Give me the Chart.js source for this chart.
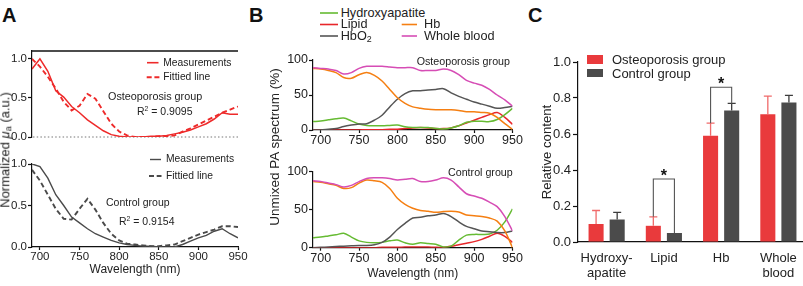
<!DOCTYPE html>
<html><head><meta charset="utf-8">
<script src="https://cdn.jsdelivr.net/npm/chart.js@4.4.0/dist/chart.umd.min.js"></script>
<style>
html,body{margin:0;padding:0;background:#fff;width:803px;height:286px;overflow:hidden;}
#fig{position:relative;width:803px;height:286px;overflow:hidden;background:#fff;
 font-family:"Liberation Sans",Arial,Helvetica,sans-serif;color:#222;}
canvas{position:absolute;}
.t{position:absolute;white-space:nowrap;line-height:1;}
.lbl{position:absolute;font-family:"Liberation Sans",Arial,sans-serif;font-weight:bold;font-size:20px;line-height:1;color:#111;}
.rot{position:absolute;white-space:nowrap;line-height:1;transform:translate(-50%,-50%) rotate(-90deg);}
svg{position:absolute;overflow:visible;}
</style></head><body><div id="fig">
<canvas id="cAtop" width="250" height="110" style="left:0;top:40px"></canvas>
<canvas id="cAbot" width="250" height="136" style="left:0;top:150px"></canvas>
<canvas id="cBtop" width="255" height="110" style="left:270px;top:40px"></canvas>
<canvas id="cBbot" width="255" height="136" style="left:270px;top:150px"></canvas>
<canvas id="cC" width="275" height="246" style="left:535px;top:40px"></canvas>
</div>
<script>
// ---------------- DATA ----------------
const WL = [690,700,710,720,730,740,750,760,770,780,790,800,810,820,830,840,850,860,870,880,890,900,910,920,930,940,950];
const X_TICKS = [700,750,800,850,900,950];
// Panel A (normalized absorption)
const A_osteoMeas = [0.87,1.0,0.84,0.59,0.51,0.39,0.31,0.22,0.15,0.08,0.03,0.01,0.0,0.0,0.0,0.01,0.01,0.02,0.04,0.06,0.09,0.13,0.17,0.23,0.31,0.29,0.29];
const A_osteoFit  = [1.0,0.90,0.77,0.62,0.45,0.34,0.40,0.55,0.49,0.33,0.17,0.07,0.02,0.0,0.0,0.0,0.01,0.01,0.02,0.07,0.11,0.16,0.21,0.26,0.31,0.35,0.39];
const A_ctrlMeas  = [1.0,0.97,0.83,0.63,0.50,0.36,0.29,0.22,0.16,0.12,0.08,0.05,0.03,0.02,0.01,0.01,0.0,0.0,0.0,0.03,0.07,0.11,0.14,0.19,0.22,0.16,0.11];
const A_ctrlFit   = [0.93,0.80,0.63,0.46,0.34,0.33,0.46,0.58,0.45,0.29,0.16,0.08,0.04,0.03,0.02,0.01,0.01,0.02,0.03,0.07,0.11,0.15,0.18,0.21,0.25,0.25,0.24];
const A_Y_TICKS = [0,0.5,1.0];
// Panel B (unmixed PA spectrum, %)
const B_osteoHyd  = [12,13,14.5,16,17,13,8.5,6.5,6,6,6.5,7,4.5,3.5,3.5,3.5,2,1.5,3,6,11,12.5,12.5,12,15,22,31];
const B_osteoLip  = [0,0,0,0,0,0,0,0.5,0.5,0.5,1,1,2,3,3.5,3,2,2,3,6,10,14,18,22,25,18,8];
const B_osteoHbO2 = [0,0,1,2,5,7,8.5,9,14,21,33,44,52,56,56,57,58,59,53,48,44,40,37,34,31,32,34];
const B_osteoHb   = [88,87,85,82,75,74,79,82,78,70,58,46,38,33,31,29.5,29,29,29,28,26,26,25,24,18,9,1];
const B_osteoWB   = [89,88,87,85,80,82,88,91,91,91,90,89,89,89,85,85,85,87,85,79,71,67,64,58,50,43,34];
const B_ctrlHyd   = [13,14,15.5,17,19,14,9,7,6.5,7,9,10,6.5,4.5,6.5,5.5,4.5,1,2,10,16.5,17.5,17.5,18,23,34,51];
const B_ctrlLip   = [0,0,0,0,0,0,0,0,0,0.5,0.5,0.5,1,1,1,1,0.5,0.5,2,4,6,8,11,15,19,15,7];
const B_ctrlHbO2  = [0,0.5,1,1.5,2,2.5,3,3,4,7,14,24,32,39,40,42,43,45,41,34,28,25,22,21,20,20,22];
const B_ctrlHb    = [87,86,84,82,78,79,85,89,88,86,78,65,57,52,49,48,46.5,47.5,48,47,43,42,41,39,35,22,0];
const B_ctrlWB    = [88,87,85,83,80,82,87,91,92,92,91,89,90,91,87,87,89,92,89,80,71,68,65,60,54,41,22];
const B_Y_TICKS = [0,50,100];
// Panel C (relative content)
const C_CATS = [['Hydroxy-','apatite'],'Lipid','Hb',['Whole','blood']];
const C_osteo    = [0.10,0.09,0.59,0.71];
const C_osteoErr = [0.075,0.05,0.07,0.10];
const C_ctrl     = [0.125,0.05,0.73,0.775];
const C_ctrlErr  = [0.04,0,0.04,0.04];
const C_SIG_CAT  = [1,2];
const C_SIG_LEVEL= [0.35,0.86];
const C_Y_TICKS = [0,0.2,0.4,0.6,0.8,1.0];

// ---------------- STYLE ----------------
const FONT = '"Liberation Sans",Arial,Helvetica,sans-serif';
const RED_A='#ee2a2a', GRAY_A='#4a4a4a';
const GREEN='#66bb33', RED='#e8262a', GRAYB='#555555', ORANGE='#f57f12', MAGENTA='#d64db5';
const RED_C='#e93a3c', GRAY_C='#4b4b4b';
Chart.defaults.font.family = FONT;
Chart.defaults.color = '#222';
Chart.defaults.animation = false;
Chart.defaults.plugins.legend.display = false;
Chart.defaults.plugins.tooltip.enabled = false;

const xy = (xs, ys) => xs.map((x,i)=>({x:x, y:ys[i]}));
const fixedTicks = vals => (s => { s.ticks = vals.map(v=>({value:v})); });
const axisGrid = (len) => ({display:true, drawOnChartArea:false, drawTicks:true, tickLength:len, tickColor:'#111', tickWidth:1.2});
const axisBorder = {display:true, color:'#111', width:1.2};

const zeroDotted = {id:'zeroDotted', beforeDatasetsDraw(chart){
  const {ctx, chartArea:a} = chart; const y = chart.scales.y.getPixelForValue(0);
  ctx.save(); ctx.strokeStyle='#777'; ctx.lineWidth=1.2; ctx.setLineDash([1.5,2.2]);
  ctx.beginPath(); ctx.moveTo(a.left+1, y); ctx.lineTo(a.right, y); ctx.stroke(); ctx.restore();
}};
const topFrame = {id:'topFrame', afterDraw(chart){
  const {ctx, chartArea:a} = chart;
  ctx.save(); ctx.strokeStyle='#111'; ctx.lineWidth=1.3;
  ctx.beginPath(); ctx.moveTo(a.left-0.6, a.top); ctx.lineTo(a.right, a.top); ctx.stroke(); ctx.restore();
}};

function lineDs(data, color, width, dash){
  return {data:data, borderColor:color, borderWidth:width, borderDash:dash||[], pointRadius:0, fill:false, tension:0};
}

function aChart(id, ds, opts){
  return new Chart(document.getElementById(id), {
    type:'line',
    data:{datasets:ds},
    options:{responsive:false, devicePixelRatio:1, layout:{padding:opts.padding},
      scales:{
        x:opts.x,
        y:{type:'linear', min:0, max:opts.ymax, afterBuildTicks:fixedTicks(opts.yticks), afterFit(s){s.width=opts.yw;},
           grid:axisGrid(opts.tl), border:axisBorder,
           ticks:{padding:1, font:{size:opts.fs}, color:'#222', callback:opts.fmt}}
      }},
    plugins:opts.plugins||[]
  });
}
function xAxis(height, fs, title, tfs, pb){
  return {type:'linear', min:690, max:950, afterBuildTicks:fixedTicks(X_TICKS), afterFit(s){s.height=height;},
    grid:axisGrid(3), border:axisBorder,
    ticks:{padding:0, font:{size:fs}, color:'#222', maxRotation:0, autoSkip:false},
    title:{display:!!title, text:title||'', color:'#222', font:{size:tfs||fs}, padding:{top:0,bottom:pb||0}}};
}
const f1 = v => v.toFixed(1);
const f0 = v => String(v);

// A top
aChart('cAtop', [lineDs(xy(WL,A_osteoMeas),RED_A,1.5), lineDs(xy(WL,A_osteoFit),RED_A,1.9,[5,3])],
  {padding:{top:11,right:12,bottom:13,left:0}, x:{type:'linear',display:false,min:690,max:950},
   ymax:1.1, yticks:A_Y_TICKS, yw:32, tl:4, fs:11.5, fmt:f1, plugins:[zeroDotted, topFrame]});
// A bottom
aChart('cAbot', [lineDs(xy(WL,A_ctrlMeas),GRAY_A,1.4), lineDs(xy(WL,A_ctrlFit),GRAY_A,1.9,[5,3])],
  {padding:{top:14,right:12,bottom:0,left:0}, x:xAxis(39,11.5,'Wavelength (nm)',12,8.8),
   ymax:1.0, yticks:A_Y_TICKS, yw:32, tl:4, fs:11.5, fmt:f1});

function bSets(h,l,o,hb,wb){
  const mk=(d,c)=>Object.assign(lineDs(xy(WL,d),c,1.5),{tension:0.3});
  return [mk(wb,MAGENTA), mk(hb,ORANGE), mk(o,GRAYB), mk(h,GREEN), mk(l,RED)];
}
// B top
aChart('cBtop', bSets(B_osteoHyd,B_osteoLip,B_osteoHbO2,B_osteoHb,B_osteoWB),
  {padding:{top:20,right:12.5,bottom:0,left:0}, x:xAxis(20,12.5,null,12,0),
   ymax:100, yticks:B_Y_TICKS, yw:43, tl:4, fs:12.5, fmt:f0});
// B bottom
aChart('cBbot', bSets(B_ctrlHyd,B_ctrlLip,B_ctrlHbO2,B_ctrlHb,B_ctrlWB),
  {padding:{top:21.7,right:12.5,bottom:0,left:0}, x:xAxis(38.3,12.5,'Wavelength (nm)',12,4.8),
   ymax:100, yticks:B_Y_TICKS, yw:43, tl:4, fs:12.5, fmt:f0});

// C
const cExtras = {id:'cExtras', afterDatasetsDraw(chart){
  const ctx=chart.ctx, ys=chart.scales.y;
  const sets=[[0,C_osteo,C_osteoErr,'#f06a6a'],[1,C_ctrl,C_ctrlErr,'#3d3d3d']];
  sets.forEach(([di,vals,errs,col])=>{
    chart.getDatasetMeta(di).data.forEach((bar,i)=>{
      if(!errs[i]) return;
      const yt=ys.getPixelForValue(vals[i]+errs[i]);
      ctx.save(); ctx.strokeStyle=col; ctx.lineWidth=1.3;
      ctx.beginPath(); ctx.moveTo(bar.x,bar.y); ctx.lineTo(bar.x,yt);
      ctx.moveTo(bar.x-4,yt); ctx.lineTo(bar.x+4,yt); ctx.stroke(); ctx.restore();
    });
  });
  C_SIG_CAT.forEach((ci,k)=>{
    const b0=chart.getDatasetMeta(0).data[ci], b1=chart.getDatasetMeta(1).data[ci];
    const yb=ys.getPixelForValue(C_SIG_LEVEL[k]);
    const y0=ys.getPixelForValue(C_osteo[ci]+C_osteoErr[ci]);
    const y1=ys.getPixelForValue(C_ctrl[ci]+C_ctrlErr[ci]);
    ctx.save(); ctx.strokeStyle='#555'; ctx.lineWidth=1.1;
    ctx.beginPath(); ctx.moveTo(b0.x,y0); ctx.lineTo(b0.x,yb); ctx.lineTo(b1.x,yb); ctx.lineTo(b1.x,y1); ctx.stroke();
    ctx.fillStyle='#111'; ctx.font='bold 16px '+FONT; ctx.textAlign='center'; ctx.textBaseline='alphabetic';
    ctx.fillText('*',(b0.x+b1.x)/2, yb+2);
    ctx.restore();
  });
}};
new Chart(document.getElementById('cC'), {
  type:'bar',
  data:{labels:C_CATS, datasets:[
    {label:'Osteoporosis group', data:C_osteo, backgroundColor:RED_C, categoryPercentage:0.737, barPercentage:0.714},
    {label:'Control group', data:C_ctrl, backgroundColor:GRAY_C, categoryPercentage:0.737, barPercentage:0.714}]},
  options:{responsive:false, devicePixelRatio:1, layout:{padding:{top:22,right:3,bottom:0,left:0}},
    scales:{
      x:{type:'category', afterFit(s){s.height=44;}, grid:{display:false, drawTicks:false}, border:axisBorder,
         ticks:{padding:8.5, font:{size:13, lineHeight:1.154}, color:'#222', maxRotation:0, autoSkip:false}},
      y:{min:0, max:1.0, afterBuildTicks:fixedTicks(C_Y_TICKS), afterFit(s){s.width=43;},
         grid:axisGrid(5), border:axisBorder,
         ticks:{padding:2, font:{size:13}, color:'#222', callback:f1},
         title:{display:true, text:'Relative content', color:'#222', font:{size:13.2}, padding:{top:4.6,bottom:0}}}
    }},
  plugins:[cExtras]
});

// ---------------- HTML TEXT / LEGENDS ----------------
const fig=document.getElementById('fig');
function T(html,left,cy,size,extra){
  const d=document.createElement('div'); d.className='t'; d.innerHTML=html;
  d.style.left=left+'px'; d.style.top=(cy-size*0.5)+'px'; d.style.fontSize=size+'px';
  if(extra) Object.assign(d.style,extra); fig.appendChild(d); return d;
}
function R(html,cx,cy,size){
  const d=document.createElement('div'); d.className='rot'; d.innerHTML=html;
  d.style.left=cx+'px'; d.style.top=cy+'px'; d.style.fontSize=size+'px'; fig.appendChild(d);
}
function L(txt,left,top){const d=document.createElement('div'); d.className='lbl'; d.textContent=txt; d.style.left=left+'px'; d.style.top=top+'px'; fig.appendChild(d);}
function seg(x1,x2,y,color,w,dash){
  const ns='http://www.w3.org/2000/svg';
  const s=document.createElementNS(ns,'svg'); s.setAttribute('width','1'); s.setAttribute('height','1');
  s.style.left='0'; s.style.top='0';
  const l=document.createElementNS(ns,'line');
  l.setAttribute('x1',x1); l.setAttribute('x2',x2); l.setAttribute('y1',y); l.setAttribute('y2',y);
  l.setAttribute('stroke',color); l.setAttribute('stroke-width',w); if(dash) l.setAttribute('stroke-dasharray',dash);
  s.appendChild(l); fig.appendChild(s);
}
function box(x,y,w,h,c){const d=document.createElement('div'); Object.assign(d.style,{position:'absolute',left:x+'px',top:y+'px',width:w+'px',height:h+'px',background:c}); fig.appendChild(d);}

// panel letters
L('A',2,5); L('B',249,5); L('C',528,5);

// A
R('Normalized <i>&mu;</i><sub style="font-size:70%;vertical-align:-0.25em">a</sub> (a.u.)',5.5,150,13);
seg(147,158.5,62.7,RED_A,1.6); T('Measurements',163.3,62.7,10.3);
seg(146.7,159.5,77.3,RED_A,1.9,'5,2.7'); T('Fittied line',163.3,77.3,10.3);
T('Osteoporosis group',108,96.7,10.8);
T('R<sup style="font-size:65%;vertical-align:0.55em">2</sup> = 0.9095',137,111.7,10.5);
seg(150,161,159.5,GRAY_A,1.4); T('Measurements',166,159.5,10.3);
seg(149,161.5,176,GRAY_A,1.9,'5,2.7'); T('Fittied line',166,176,10.3);
T('Control group',106,202.7,10.5);
T('R<sup style="font-size:65%;vertical-align:0.55em">2</sup> = 0.9154',119,221.7,10.5);

// B
R('Unmixed PA spectrum (%)',275,147,13.5);
seg(320,338,13,GREEN,1.6); T('Hydroxyapatite',340.7,13,12.7);
seg(320,338,24.5,RED,1.6); T('Lipid',340.7,24.5,12.7);
seg(320,338,36,GRAYB,1.6); T('HbO<sub style="font-size:70%;vertical-align:-0.2em">2</sub>',340.7,36,12.7);
seg(401.7,417,24.5,ORANGE,1.6); T('Hb',424,24.5,12.7);
seg(401.7,417,36,MAGENTA,1.6); T('Whole blood',424,36,12.7);
T('Osteoporosis group',416.7,61,10.7);
T('Control group',448,172.7,10.7);

// C legend
box(587,55,16,8.5,RED_C); T('Osteoporosis group',612,59.2,13);
box(587,68.5,16,8.5,GRAY_C); T('Control group',612,73,13);
</script>
</body></html>
